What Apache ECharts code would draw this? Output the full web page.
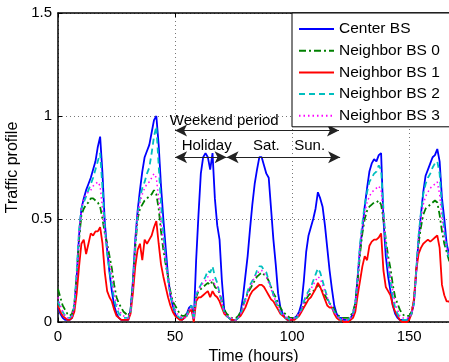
<!DOCTYPE html>
<html lang="en">
<head>
    <meta charset="UTF-8">
    <script src="https://cdn.jsdelivr.net/npm/echarts/dist/echarts.min.js"></script>
    <style>html, body { margin: 0; padding: 0; background: #fff; }</style>
</head>
<body>
<div id="main" style="width: 449px;height:362px;"></div>

<script type="text/javascript">
    // hourly samples, hour 0 .. 168
    var seriesNames = ['Center BS', 'Neighbor BS 0', 'Neighbor BS 1', 'Neighbor BS 2', 'Neighbor BS 3'];

    var centerBS = [
        0.07, 0.04, 0.02, 0.01, 0.01, 0.01, 0.02, 0.08, 0.22, 0.42, 0.55, 0.60, 0.64, 0.67, 0.70, 0.74, 0.78, 0.85, 0.90, 0.72,
        0.48, 0.35, 0.24, 0.15, 0.08, 0.04, 0.02, 0.01, 0.01, 0.01, 0.01, 0.06, 0.20, 0.40, 0.54, 0.64, 0.73, 0.80, 0.83, 0.86,
        0.92, 0.98, 1.00, 0.86, 0.66, 0.50, 0.36, 0.22, 0.13, 0.08, 0.04, 0.02, 0.02, 0.01, 0.02, 0.04, 0.07, 0.08, 0.01, 0.30,
        0.52, 0.72, 0.80, 0.82, 0.80, 0.74, 0.82, 0.60, 0.47, 0.40, 0.20, 0.06, 0.03, 0.02, 0.01, 0.01, 0.01, 0.02, 0.05, 0.12,
        0.22, 0.32, 0.45, 0.57, 0.67, 0.74, 0.80, 0.80, 0.76, 0.72, 0.70, 0.55, 0.40, 0.28, 0.14, 0.07, 0.04, 0.02, 0.01, 0.01,
        0.01, 0.02, 0.03, 0.05, 0.09, 0.20, 0.34, 0.42, 0.46, 0.50, 0.55, 0.63, 0.60, 0.56, 0.47, 0.36, 0.25, 0.16, 0.08, 0.04,
        0.02, 0.02, 0.01, 0.01, 0.01, 0.02, 0.04, 0.09, 0.22, 0.36, 0.45, 0.56, 0.65, 0.73, 0.77, 0.79, 0.78, 0.81, 0.82, 0.50,
        0.32, 0.22, 0.15, 0.08, 0.04, 0.02, 0.01, 0.01, 0.01, 0.01, 0.02, 0.04, 0.09, 0.24, 0.40, 0.52, 0.63, 0.71, 0.74, 0.77,
        0.80, 0.81, 0.84, 0.78, 0.60, 0.50, 0.38, 0.33, 0.30
    ];
    var neighborBS0 = [
        0.16, 0.12, 0.08, 0.06, 0.04, 0.03, 0.04, 0.09, 0.22, 0.40, 0.52, 0.55, 0.57, 0.58, 0.60, 0.60, 0.59, 0.58, 0.56, 0.50,
        0.43, 0.38, 0.32, 0.26, 0.18, 0.12, 0.09, 0.07, 0.05, 0.04, 0.03, 0.06, 0.18, 0.36, 0.50, 0.55, 0.57, 0.59, 0.60, 0.61,
        0.62, 0.64, 0.62, 0.55, 0.44, 0.35, 0.28, 0.22, 0.15, 0.10, 0.08, 0.06, 0.04, 0.03, 0.03, 0.04, 0.06, 0.07, 0.02, 0.12,
        0.15, 0.16, 0.17, 0.18, 0.19, 0.18, 0.20, 0.17, 0.16, 0.14, 0.10, 0.06, 0.04, 0.03, 0.02, 0.02, 0.02, 0.03, 0.05, 0.08,
        0.11, 0.14, 0.16, 0.18, 0.20, 0.22, 0.23, 0.24, 0.23, 0.22, 0.20, 0.17, 0.14, 0.12, 0.09, 0.07, 0.05, 0.04, 0.03, 0.02,
        0.02, 0.02, 0.03, 0.04, 0.06, 0.08, 0.11, 0.13, 0.14, 0.15, 0.16, 0.18, 0.17, 0.15, 0.13, 0.11, 0.09, 0.08, 0.06, 0.04,
        0.03, 0.02, 0.02, 0.02, 0.02, 0.03, 0.05, 0.09, 0.20, 0.33, 0.43, 0.50, 0.54, 0.56, 0.57, 0.58, 0.58, 0.59, 0.57, 0.50,
        0.40, 0.32, 0.26, 0.18, 0.12, 0.09, 0.06, 0.04, 0.03, 0.03, 0.03, 0.05, 0.10, 0.25, 0.38, 0.46, 0.52, 0.55, 0.56, 0.57,
        0.58, 0.59, 0.58, 0.52, 0.44, 0.38, 0.34, 0.30, 0.28
    ];
    var neighborBS1 = [
        0.08, 0.05, 0.03, 0.02, 0.01, 0.01, 0.02, 0.05, 0.14, 0.27, 0.38, 0.40, 0.33, 0.38, 0.43, 0.42, 0.44, 0.44, 0.46, 0.38,
        0.24, 0.15, 0.12, 0.10, 0.06, 0.03, 0.02, 0.01, 0.01, 0.01, 0.01, 0.04, 0.14, 0.27, 0.35, 0.38, 0.30, 0.40, 0.38, 0.40,
        0.42, 0.46, 0.49, 0.38, 0.28, 0.22, 0.17, 0.12, 0.08, 0.05, 0.03, 0.02, 0.01, 0.01, 0.02, 0.03, 0.05, 0.06, 0.00, 0.10,
        0.12, 0.12, 0.13, 0.14, 0.15, 0.12, 0.15, 0.13, 0.12, 0.10, 0.07, 0.04, 0.03, 0.02, 0.01, 0.01, 0.01, 0.02, 0.03, 0.05,
        0.07, 0.10, 0.13, 0.15, 0.16, 0.17, 0.18, 0.18, 0.17, 0.15, 0.13, 0.11, 0.10, 0.08, 0.06, 0.04, 0.03, 0.02, 0.01, 0.01,
        0.01, 0.01, 0.02, 0.03, 0.05, 0.07, 0.09, 0.11, 0.12, 0.14, 0.16, 0.19, 0.17, 0.14, 0.11, 0.08, 0.07, 0.07, 0.04, 0.02,
        0.01, 0.01, 0.00, 0.00, 0.00, 0.01, 0.02, 0.05, 0.13, 0.20, 0.27, 0.32, 0.30, 0.37, 0.39, 0.40, 0.40, 0.41, 0.43, 0.25,
        0.17, 0.15, 0.13, 0.08, 0.05, 0.03, 0.01, 0.00, 0.00, 0.00, 0.01, 0.04, 0.11, 0.25, 0.33, 0.36, 0.38, 0.39, 0.40, 0.39,
        0.40, 0.41, 0.42, 0.36, 0.18, 0.13, 0.10, 0.10, 0.08
    ];
    var neighborBS2 = [
        0.10, 0.07, 0.05, 0.03, 0.02, 0.02, 0.03, 0.08, 0.25, 0.45, 0.55, 0.58, 0.61, 0.64, 0.67, 0.70, 0.74, 0.78, 0.82, 0.65,
        0.46, 0.33, 0.25, 0.18, 0.11, 0.07, 0.04, 0.03, 0.02, 0.02, 0.02, 0.05, 0.18, 0.38, 0.52, 0.60, 0.65, 0.68, 0.72, 0.75,
        0.82, 0.90, 0.95, 0.76, 0.57, 0.43, 0.30, 0.20, 0.13, 0.09, 0.05, 0.03, 0.02, 0.02, 0.02, 0.03, 0.06, 0.08, 0.01, 0.13,
        0.16, 0.18, 0.20, 0.22, 0.25, 0.24, 0.27, 0.22, 0.19, 0.14, 0.09, 0.05, 0.03, 0.02, 0.01, 0.01, 0.01, 0.02, 0.04, 0.07,
        0.11, 0.15, 0.18, 0.20, 0.22, 0.25, 0.27, 0.27, 0.25, 0.24, 0.20, 0.17, 0.13, 0.10, 0.07, 0.05, 0.03, 0.02, 0.02, 0.01,
        0.01, 0.02, 0.02, 0.04, 0.06, 0.10, 0.13, 0.15, 0.17, 0.20, 0.23, 0.26, 0.24, 0.20, 0.16, 0.12, 0.09, 0.07, 0.05, 0.03,
        0.02, 0.01, 0.01, 0.01, 0.01, 0.02, 0.04, 0.08, 0.22, 0.38, 0.48, 0.57, 0.63, 0.68, 0.70, 0.72, 0.73, 0.76, 0.74, 0.55,
        0.38, 0.27, 0.20, 0.12, 0.07, 0.04, 0.02, 0.01, 0.01, 0.01, 0.02, 0.04, 0.09, 0.25, 0.42, 0.53, 0.62, 0.67, 0.70, 0.72,
        0.75, 0.77, 0.78, 0.72, 0.55, 0.44, 0.36, 0.31, 0.28
    ];
    var neighborBS3 = [
        0.12, 0.08, 0.05, 0.03, 0.02, 0.02, 0.03, 0.08, 0.23, 0.43, 0.55, 0.60, 0.62, 0.63, 0.64, 0.66, 0.67, 0.68, 0.66, 0.55,
        0.44, 0.36, 0.29, 0.22, 0.14, 0.09, 0.06, 0.04, 0.03, 0.02, 0.02, 0.05, 0.18, 0.38, 0.52, 0.58, 0.62, 0.65, 0.67, 0.68,
        0.70, 0.72, 0.70, 0.60, 0.48, 0.38, 0.29, 0.21, 0.14, 0.10, 0.06, 0.04, 0.03, 0.02, 0.02, 0.03, 0.06, 0.07, 0.01, 0.13,
        0.16, 0.17, 0.19, 0.20, 0.22, 0.20, 0.21, 0.18, 0.17, 0.14, 0.09, 0.05, 0.03, 0.02, 0.02, 0.01, 0.01, 0.02, 0.04, 0.07,
        0.10, 0.14, 0.17, 0.19, 0.22, 0.23, 0.25, 0.25, 0.24, 0.22, 0.19, 0.16, 0.13, 0.10, 0.08, 0.05, 0.04, 0.03, 0.02, 0.02,
        0.01, 0.02, 0.03, 0.04, 0.06, 0.09, 0.12, 0.14, 0.16, 0.18, 0.20, 0.22, 0.21, 0.18, 0.15, 0.12, 0.09, 0.07, 0.05, 0.03,
        0.02, 0.02, 0.01, 0.01, 0.01, 0.02, 0.04, 0.08, 0.21, 0.36, 0.46, 0.53, 0.58, 0.61, 0.63, 0.64, 0.65, 0.66, 0.64, 0.52,
        0.38, 0.29, 0.22, 0.15, 0.09, 0.06, 0.03, 0.02, 0.02, 0.02, 0.02, 0.04, 0.09, 0.24, 0.40, 0.50, 0.57, 0.61, 0.63, 0.65,
        0.66, 0.67, 0.68, 0.62, 0.50, 0.42, 0.36, 0.32, 0.30
    ];

    var xTicks = [0, 50, 100, 150];
    var yTicks = [0, 0.5, 1, 1.5];

    // annotation texts and arrows (in data units: hours, traffic)
    var notes = [
        {text: 'Weekend period', x: 71, y: 0.975},
        {text: 'Holiday', x: 63.5, y: 0.855},
        {text: 'Sat.', x: 89, y: 0.855},
        {text: 'Sun.', x: 107.5, y: 0.855}
    ];
    var arrows = [
        [50, 120, 0.93],
        [50, 72, 0.80],
        [72, 120.5, 0.80]
    ];

    var colors = ['#0000ff', '#008000', '#ff0000', '#00bfbf', '#ff00ff'];
    var dashes = ['solid', [7, 3, 2, 3], 'solid', [6, 4], [1.5, 3]];
    var widths = [1.8, 1.8, 1.8, 1.8, 1.5];
    var values = [centerBS, neighborBS0, neighborBS1, neighborBS2, neighborBS3];

    var FONT = 'Liberation Sans';
    var myChart = echarts.init(document.getElementById('main'));

    var series = [];
    for (var s = 0; s < values.length; s++) {
        var pts = [];
        for (var h = 0; h < values[s].length; h++) {
            pts.push([h, values[s][h]]);
        }
        series.push({
            name: seriesNames[s],
            type: 'line',
            data: pts,
            symbol: 'none',
            color: colors[s],
            lineStyle: {color: colors[s], width: widths[s], type: dashes[s]},
            z: 2 + s
        });
    }

    var arrowData = arrows.map(function (a) {
        return [{coord: [a[0], a[2]]}, {coord: [a[1], a[2]]}];
    });
    series[0].markLine = {
        silent: true,
        symbol: ['arrow', 'arrow'],
        symbolSize: [9, 12],
        label: {show: false},
        lineStyle: {color: '#222', width: 1.2, type: 'solid'},
        data: arrowData
    };

    var option = {
        animation: false,
        textStyle: {fontFamily: FONT},
        grid: {left: 58, top: 13, right: 0, bottom: 40, outerBoundsMode: 'none', containLabel: false},
        legend: {
            data: seriesNames,
            orient: 'vertical',
            left: 292,
            top: 13,
            padding: [8, 10, 3, 6],
            itemWidth: 35,
            itemHeight: 14,
            itemGap: 5.7,
            backgroundColor: '#fff',
            borderColor: '#000',
            borderWidth: 1,
            itemStyle: {opacity: 0},
            textStyle: {fontFamily: FONT, fontSize: 15.5, color: '#000'},
            z: 20
        },
        xAxis: [{
            type: 'value',
            min: 0,
            max: 167,
            interval: 50,
            name: 'Time (hours)',
            nameLocation: 'middle',
            nameGap: 19,
            nameTextStyle: {fontFamily: FONT, fontSize: 16, color: '#000'},
            axisLine: {lineStyle: {color: '#000', width: 1.5}},
            axisTick: {inside: true, length: 4, lineStyle: {color: '#000'}},
            axisLabel: {
                fontFamily: FONT, fontSize: 15, color: '#000', margin: 7,
                showMaxLabel: false,
                formatter: function (v) { return xTicks.indexOf(v) >= 0 ? String(v) : ''; }
            },
            splitLine: {show: true, lineStyle: {color: '#777', type: [1, 3], width: 1}}
        }, {
            type: 'value',
            position: 'top',
            min: 0,
            max: 167,
            interval: 50,
            axisLine: {show: true, onZero: false, lineStyle: {color: '#000', width: 1.5}},
            axisTick: {inside: true, length: 4, lineStyle: {color: '#000'}},
            axisLabel: {show: false},
            splitLine: {show: false}
        }],
        yAxis: {
            type: 'value',
            min: 0,
            max: 1.5,
            interval: 0.5,
            name: 'Traffic profile',
            nameLocation: 'middle',
            nameGap: 34,
            nameTextStyle: {fontFamily: FONT, fontSize: 16, color: '#000'},
            axisLine: {show: true, lineStyle: {color: '#000', width: 1.5}},
            axisTick: {show: true, inside: true, length: 4, lineStyle: {color: '#000'}},
            axisLabel: {
                fontFamily: FONT, fontSize: 15, color: '#000', margin: 6,
                formatter: function (v) { return yTicks.indexOf(v) >= 0 ? String(v) : ''; }
            },
            splitLine: {show: true, lineStyle: {color: '#777', type: [1, 3], width: 1}}
        },
        series: series
    };

    myChart.setOption(option);

    // place annotation texts through the axes
    var texts = notes.map(function (n) {
        var p = myChart.convertToPixel({gridIndex: 0}, [n.x, n.y]);
        return {
            type: 'text',
            x: p[0],
            y: p[1],
            z: 30,
            style: {
                text: n.text,
                fill: '#000',
                font: '15px "' + FONT + '"',
                align: 'center',
                verticalAlign: 'middle'
            }
        };
    });
    myChart.setOption({graphic: texts});
</script>
</body>
</html>
